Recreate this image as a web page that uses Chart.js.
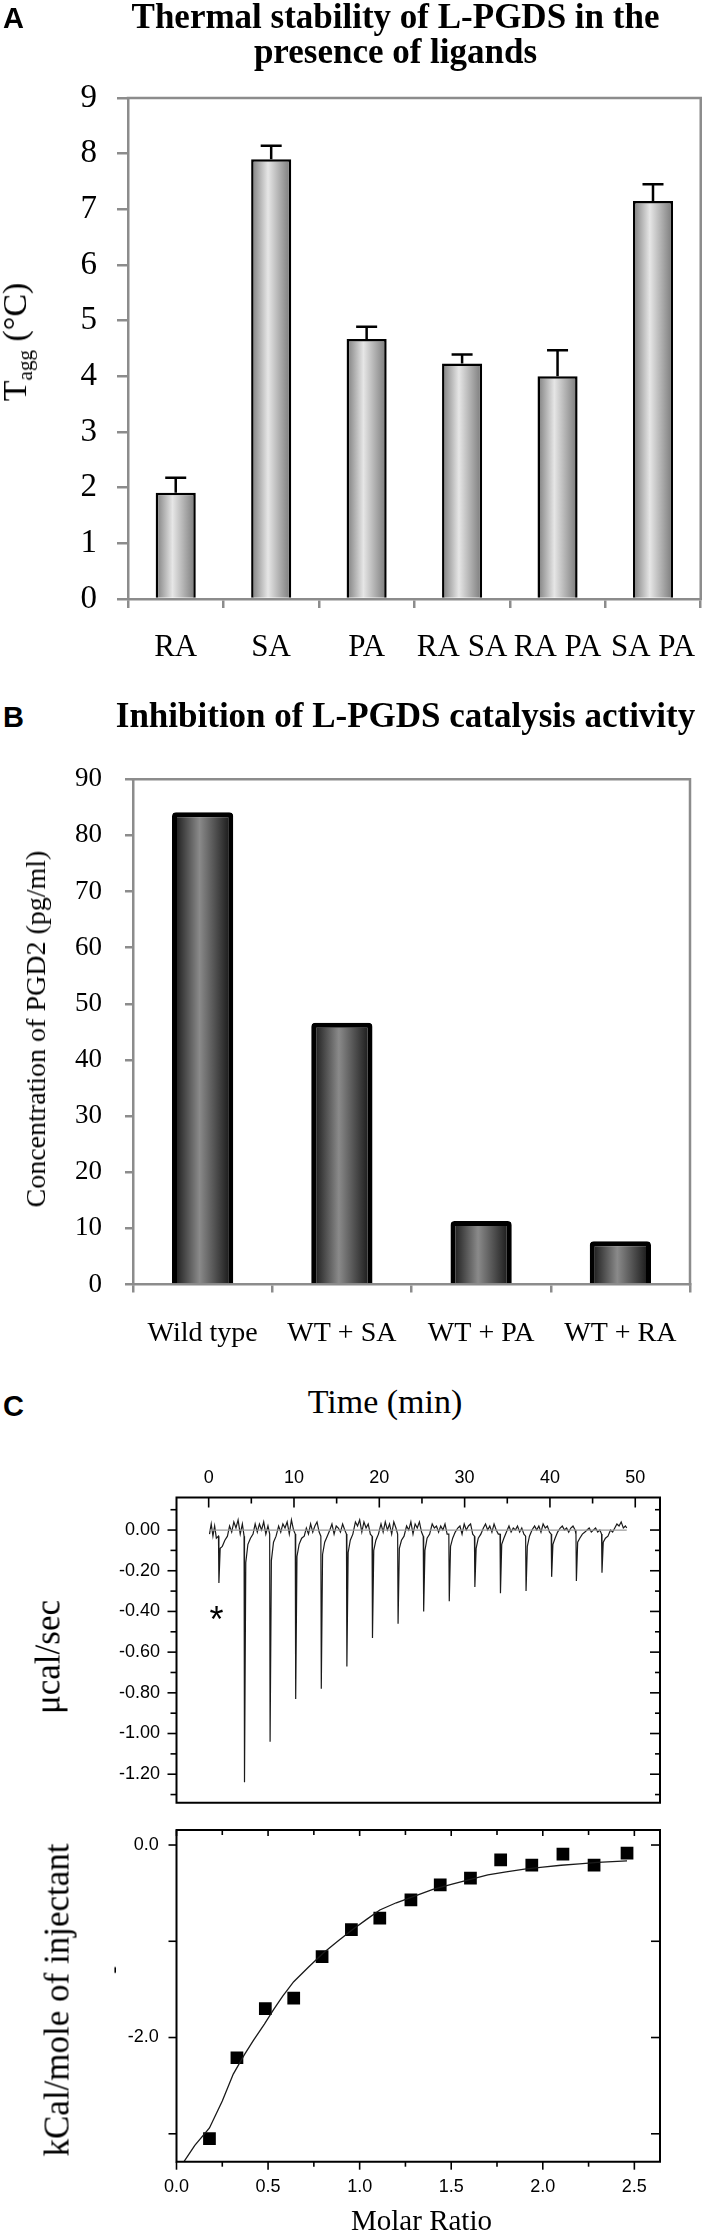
<!DOCTYPE html>
<html>
<head>
<meta charset="utf-8">
<script src="https://cdn.jsdelivr.net/npm/chart.js@4.4.1/dist/chart.umd.min.js"></script>
<style>
  body { margin: 0; background: #fff; }
  #page { position: relative; width: 717px; height: 2235px; overflow: hidden; background: #fff; }
  canvas { position: absolute; left: 0; }
  .txt { position: absolute; white-space: nowrap; line-height: 1; color: #000; }
  .serif { font-family: 'Liberation Serif', 'Times New Roman', serif; }
  .sans { font-family: 'Liberation Sans', Arial, sans-serif; }
  .mid { transform: translateX(-50%); text-align: center; }
  .up { transform: translate(-50%, -50%) rotate(-90deg); }
</style>
</head>
<body>
<div id="page">
  <canvas id="chartA" width="717" height="700" style="top:0px"></canvas>
  <canvas id="chartB" width="717" height="640" style="top:740px"></canvas>
  <canvas id="chartRaw" width="717" height="390" style="top:1440px"></canvas>
  <canvas id="chartFit" width="717" height="435" style="top:1800px"></canvas>

  <div class="txt sans" style="left:3px; top:3.5px; font-size:29px; font-weight:bold;">A</div>
  <div class="txt serif mid" style="left:395.5px; top:-1.3px; font-size:35px; line-height:35px; font-weight:bold;">Thermal stability of L-PGDS in the<br>presence of ligands</div>
  <div class="txt serif up" style="left:17px; top:342px; font-size:34px;">T<span style="font-size:0.62em; vertical-align:-0.28em;">agg</span> (°C)</div>

  <div class="txt sans" style="left:3px; top:702.5px; font-size:29px; font-weight:bold;">B</div>
  <div class="txt serif mid" style="left:405.5px; top:697.7px; font-size:35px; font-weight:bold;">Inhibition of L-PGDS catalysis activity</div>
  <div class="txt serif up" style="left:35.5px; top:1028.5px; font-size:28px;">Concentration of PGD2 (pg/ml)</div>

  <div class="txt sans" style="left:3px; top:1391.5px; font-size:29px; font-weight:bold;">C</div>
  <div class="txt serif mid" style="left:385px; top:1384.5px; font-size:34px;">Time (min)</div>
  <div class="txt serif up" style="left:47.5px; top:1657px; font-size:35px;">μcal/sec</div>
  <div class="txt sans mid" style="left:216.5px; top:1602px; font-size:36px;">*</div>
  <div class="txt serif up" style="left:57px; top:2000px; font-size:35px;">kCal/mole of injectant</div>
  <div class="txt serif up" style="left:113px; top:1970px; font-size:22px;">-</div>
  <div class="txt serif mid" style="left:421.5px; top:2205.7px; font-size:29px;">Molar Ratio</div>
</div>

<script>
// Panel A: thermal stability (Tagg shift) with ligands
const ligands = ["RA", "SA", "PA", "RA SA", "RA PA", "SA PA"];
const taggShift = [1.91, 7.9, 4.67, 4.23, 4.0, 7.15];
const taggError = [0.27, 0.24, 0.22, 0.16, 0.47, 0.3];

// Panel B: PGD2 produced
const samples = ["Wild type", "WT + SA", "WT + PA", "WT + RA"];
const pgd2 = [84.1, 46.6, 11.3, 7.7];

// Panel C top: raw ITC trace
const timeTicks = [0, 10, 20, 30, 40, 50];
const timeMinor = [5, 15, 25, 35, 45];
const powerTicks = [0, -0.2, -0.4, -0.6, -0.8, -1.0, -1.2];
const powerMinor = [0.1, -0.1, -0.3, -0.5, -0.7, -0.9, -1.1, -1.3];
const itcTime = [
  0.1, 0.3, 0.5, 0.7, 0.9,
  1.15, 1.2, 1.35, 1.6, 1.9, 2.2, 2.45, 2.7, 2.95, 3.2, 3.45, 3.7, 3.95,
  4.15, 4.2, 4.35, 4.6, 4.9, 5.2, 5.45, 5.7, 5.95, 6.2, 6.45, 6.7, 6.95,
  7.15, 7.2, 7.35, 7.6, 7.9, 8.2, 8.45, 8.7, 8.95, 9.2, 9.45, 9.7, 9.95,
  10.15, 10.2, 10.35, 10.6, 10.9, 11.2, 11.45, 11.7, 11.95, 12.2, 12.45, 12.7, 12.95,
  13.15, 13.2, 13.35, 13.6, 13.9, 14.2, 14.45, 14.7, 14.95, 15.2, 15.45, 15.7, 15.95,
  16.15, 16.2, 16.35, 16.6, 16.9, 17.2, 17.45, 17.7, 17.95, 18.2, 18.45, 18.7, 18.95,
  19.15, 19.2, 19.35, 19.6, 19.9, 20.2, 20.45, 20.7, 20.95, 21.2, 21.45, 21.7, 21.95,
  22.15, 22.2, 22.35, 22.6, 22.9, 23.2, 23.45, 23.7, 23.95, 24.2, 24.45, 24.7, 24.95,
  25.15, 25.2, 25.35, 25.6, 25.9, 26.2, 26.45, 26.7, 26.95, 27.2, 27.45, 27.7, 27.95,
  28.15, 28.2, 28.35, 28.6, 28.9, 29.2, 29.45, 29.7, 29.95, 30.2, 30.45, 30.7, 30.95,
  31.15, 31.2, 31.35, 31.6, 31.9, 32.2, 32.45, 32.7, 32.95, 33.2, 33.45, 33.7, 33.95,
  34.15, 34.2, 34.35, 34.6, 34.9, 35.2, 35.45, 35.7, 35.95, 36.2, 36.45, 36.7, 36.95,
  37.15, 37.2, 37.35, 37.6, 37.9, 38.2, 38.45, 38.7, 38.95, 39.2, 39.45, 39.7, 39.95,
  40.15, 40.2, 40.35, 40.6, 40.9, 41.2, 41.45, 41.7, 41.95, 42.2, 42.45, 42.7, 42.95,
  43.05, 43.1, 43.25, 43.5, 43.8, 44.1, 44.35, 44.6, 44.85, 45.1, 45.35, 45.6, 45.85,
  46.05, 46.1, 46.25, 46.5, 46.8, 47.1, 47.35, 47.6, 47.85, 48.1, 48.35, 48.6, 48.85, 49.0,
];
const itcPower = [
  -0.02, 0.03, -0.03, 0.02, -0.04,
  -0.03, -0.26, -0.09, -0.08, -0.05, -0.03, 0.02, -0.01, 0.04, 0.01, 0.05, -0.02, 0.03,
  -0.03, -1.24, -0.16, -0.07, -0.04, -0.02, 0.03, -0.01, 0.03, 0.0, 0.04, -0.02, 0.02,
  -0.02, -1.04, -0.15, -0.06, -0.03, 0.02, -0.01, 0.03, 0.01, 0.04, -0.02, 0.05, 0.0,
  -0.02, -0.83, -0.13, -0.07, -0.04, -0.03, 0.01, -0.02, 0.03, -0.01, 0.02, 0.04, -0.01,
  -0.03, -0.78, -0.12, -0.06, -0.03, 0.0, 0.03, -0.02, 0.02, 0.01, -0.01, 0.03, 0.0,
  -0.02, -0.67, -0.11, -0.05, -0.02, 0.04, 0.02, 0.05, -0.01, 0.04, 0.01, 0.03, -0.02,
  -0.03, -0.53, -0.1, -0.05, -0.02, 0.03, -0.01, 0.04, 0.0, 0.03, -0.02, 0.04, 0.01,
  -0.02, -0.46, -0.09, -0.05, -0.03, 0.02, 0.0, 0.04, -0.02, 0.03, 0.01, 0.04, -0.01,
  -0.03, -0.4, -0.1, -0.04, -0.02, 0.03, 0.01, 0.02, -0.01, 0.02, 0.0, 0.03, -0.02,
  -0.02, -0.35, -0.08, -0.04, -0.01, 0.01, 0.02, -0.02, 0.03, 0.0, 0.02, 0.03, -0.02,
  -0.03, -0.28, -0.09, -0.04, -0.02, 0.01, 0.03, 0.0, 0.02, -0.01, 0.03, 0.0, -0.02,
  -0.02, -0.31, -0.07, -0.04, -0.01, 0.02, -0.01, 0.01, 0.0, 0.02, -0.01, 0.01, -0.02,
  -0.03, -0.3, -0.08, -0.03, 0.0, 0.02, 0.0, 0.02, -0.01, 0.03, 0.01, 0.02, -0.01,
  -0.02, -0.23, -0.07, -0.04, -0.01, 0.01, 0.02, 0.0, 0.01, -0.01, 0.01, 0.02, 0.0,
  -0.02, -0.25, -0.06, -0.04, -0.02, -0.01, 0.0, 0.01, -0.01, 0.0, 0.01, -0.01, 0.0,
  -0.02, -0.21, -0.06, -0.04, -0.03, 0.0, -0.01, 0.01, 0.03, 0.02, 0.04, 0.01, 0.02, 0.01,
];

// Panel C bottom: integrated heats + fit
const ratioTicks = [0, 0.5, 1, 1.5, 2, 2.5];
const ratioMinor = [0.25, 0.75, 1.25, 1.75, 2.25];
const heatTicks = [0, -2];
const heatMarks = [0, -1, -2, -3];
const molarRatio = [0.18, 0.33, 0.485, 0.64, 0.795, 0.955, 1.11, 1.28, 1.44, 1.605, 1.77, 1.94, 2.11, 2.28, 2.46];
const heatPerMole = [-3.05, -2.21, -1.7, -1.59, -1.16, -0.88, -0.76, -0.57, -0.415, -0.345, -0.155, -0.21, -0.095, -0.21, -0.085];
const fitRatio = [0.03, 0.1, 0.18, 0.25, 0.31, 0.37, 0.42, 0.48, 0.53, 0.58, 0.64, 0.72, 0.8, 0.88, 0.96, 1.04, 1.11, 1.2, 1.3, 1.4, 1.5, 1.6, 1.7, 1.8, 1.9, 2.0, 2.1, 2.2, 2.3, 2.46];
const fitHeat = [-3.32, -3.12, -2.94, -2.66, -2.38, -2.18, -2.03, -1.86, -1.71, -1.57, -1.42, -1.27, -1.125, -1.0, -0.88, -0.77, -0.675, -0.6, -0.53, -0.46, -0.41, -0.36, -0.31, -0.28, -0.25, -0.23, -0.21, -0.195, -0.18, -0.165];

const SERIF = "'Liberation Serif', 'Times New Roman', serif";
const SANS = "'Liberation Sans', Arial, sans-serif";
const GRAY = "#8c8c8c";

// box lines + hand placed tick marks (len > 0 points inward)
const framePlugin = {
  id: "frame",
  afterDraw(chart, args, opts) {
    if (!opts || !opts.sides) return;
    const { left, right, top, bottom } = chart.chartArea;
    const c = chart.ctx;
    c.save();
    c.strokeStyle = opts.color;
    c.lineWidth = opts.width;
    c.lineCap = "square";
    c.beginPath();
    opts.sides.forEach((s) => {
      if (s === "top") { c.moveTo(left, top); c.lineTo(right, top); }
      if (s === "bottom") { c.moveTo(left, bottom); c.lineTo(right, bottom); }
      if (s === "left") { c.moveTo(left, top); c.lineTo(left, bottom); }
      if (s === "right") { c.moveTo(right, top); c.lineTo(right, bottom); }
    });
    c.stroke();
    c.lineCap = "butt";
    c.lineWidth = opts.tickWidth || opts.width;
    (opts.ticks || []).forEach((t) => {
      const sc = chart.scales[t.scale];
      t.values.forEach((v) => {
        if (v < sc.min || v > sc.max) return;
        const p = sc.getPixelForValue(v);
        c.beginPath();
        if (t.side === "top") { c.moveTo(p, top); c.lineTo(p, top + t.len); }
        if (t.side === "bottom") { c.moveTo(p, bottom); c.lineTo(p, bottom - t.len); }
        if (t.side === "left") { c.moveTo(left, p); c.lineTo(left + t.len, p); }
        if (t.side === "right") { c.moveTo(right, p); c.lineTo(right - t.len, p); }
        c.stroke();
      });
    });
    c.restore();
  },
};
Chart.register(framePlugin);

// error bars for panel A (upper half only)
const errorBars = {
  id: "errorBars",
  afterDatasetsDraw(chart) {
    const meta = chart.getDatasetMeta(0);
    const ys = chart.scales.y;
    const c = chart.ctx;
    c.save();
    c.strokeStyle = "#000";
    c.lineWidth = 2.5;
    meta.data.forEach((bar, i) => {
      const yTop = ys.getPixelForValue(taggShift[i] + taggError[i]);
      c.beginPath();
      c.moveTo(bar.x, bar.y);
      c.lineTo(bar.x, yTop);
      c.moveTo(bar.x - 10.5, yTop);
      c.lineTo(bar.x + 10.5, yTop);
      c.stroke();
    });
    c.restore();
  },
};

function barGradient(count, pct, stops) {
  return (ctx) => {
    const chart = ctx.chart;
    const sx = chart.scales.x;
    if (!chart.chartArea || !sx || ctx.dataIndex === undefined) return stops[1];
    const cx = sx.getPixelForValue(ctx.dataIndex);
    const half = (sx.width / count) * pct / 2;
    const g = chart.ctx.createLinearGradient(cx - half, 0, cx + half, 0);
    g.addColorStop(0, stops[0]);
    g.addColorStop(stops[3], stops[1]);
    g.addColorStop(1, stops[2]);
    return g;
  };
}

// Panel A
new Chart(document.getElementById("chartA"), {
  type: "bar",
  data: {
    labels: ligands,
    datasets: [{
      data: taggShift,
      backgroundColor: barGradient(ligands.length, 0.42, ["#7c7c7c", "#e6e6e6", "#787878", 0.42]),
      borderColor: "#000",
      borderWidth: 2.5,
      barPercentage: 0.42,
      categoryPercentage: 1,
    }],
  },
  options: {
    responsive: false,
    animation: false,
    layout: { padding: { top: 98, right: 5, bottom: 21, left: 0 } },
    plugins: {
      legend: { display: false },
      tooltip: { enabled: false },
      frame: { color: GRAY, width: 2.5, sides: ["top", "right"] },
    },
    scales: {
      x: {
        grid: { offset: true, drawOnChartArea: false, tickLength: 9, color: GRAY, lineWidth: 2.5 },
        border: { color: GRAY, width: 2.5 },
        ticks: { color: "#000", font: { family: SERIF, size: 31 }, padding: 21.5, autoSkip: false, maxRotation: 0, minRotation: 0 },
        afterFit: (s) => { s.height = 80; },
      },
      y: {
        min: 0,
        max: 9,
        grid: { drawOnChartArea: false, tickLength: 11, color: GRAY, lineWidth: 2.5 },
        border: { color: GRAY, width: 2.5 },
        ticks: { stepSize: 1, color: "#000", font: { family: SERIF, size: 33 }, padding: 20 },
        afterFit: (s) => { s.width = 128; },
      },
    },
  },
  plugins: [errorBars],
});

// Panel B
new Chart(document.getElementById("chartB"), {
  type: "bar",
  data: {
    labels: samples,
    datasets: [{
      data: pgd2,
      backgroundColor: barGradient(samples.length, 0.44, ["#0e0e0e", "#8a8a8a", "#0e0e0e", 0.45]),
      borderColor: "#000",
      borderWidth: 5,
      borderRadius: 4,
      barPercentage: 0.44,
      categoryPercentage: 1,
    }],
  },
  options: {
    responsive: false,
    animation: false,
    layout: { padding: { top: 33, right: 27, bottom: 15.5, left: 0 } },
    plugins: {
      legend: { display: false },
      tooltip: { enabled: false },
      frame: { color: GRAY, width: 2.5, sides: ["top", "right"] },
    },
    scales: {
      x: {
        grid: { offset: true, drawOnChartArea: false, tickLength: 8, color: GRAY, lineWidth: 2.5 },
        border: { color: GRAY, width: 2.5 },
        ticks: { color: "#000", font: { family: SERIF, size: 28 }, padding: 24, autoSkip: false, maxRotation: 0, minRotation: 0 },
        afterFit: (s) => { s.height = 80; },
      },
      y: {
        min: 0,
        max: 90,
        grid: { drawOnChartArea: false, tickLength: 8, color: GRAY, lineWidth: 2.5 },
        border: { color: GRAY, width: 2.5 },
        ticks: { stepSize: 10, color: "#000", font: { family: SERIF, size: 27 }, padding: 23 },
        afterFit: (s) => { s.width = 133; },
      },
    },
  },
});

// Panel C, raw power trace
const tracePoints = itcTime.map((t, i) => ({ x: t, y: itcPower[i] }));
const baseline = [{ x: itcTime[0], y: 0 }, { x: itcTime[itcTime.length - 1], y: 0 }];

new Chart(document.getElementById("chartRaw"), {
  type: "scatter",
  data: {
    datasets: [
      { data: baseline, showLine: true, borderColor: "#9a9a9a", borderWidth: 1.3, pointRadius: 0 },
      { data: tracePoints, showLine: true, borderColor: "#1a1a1a", borderWidth: 1.2, pointRadius: 0, tension: 0 },
    ],
  },
  options: {
    responsive: false,
    animation: false,
    layout: { padding: { top: 0, right: 57, bottom: 0, left: 0 } },
    plugins: {
      legend: { display: false },
      tooltip: { enabled: false },
      frame: {
        color: "#000", width: 2, tickWidth: 1.6, sides: ["top", "right", "bottom", "left"],
        ticks: [
          { scale: "x", side: "top", values: timeTicks, len: 10 },
          { scale: "x", side: "top", values: timeMinor, len: 6 },
          { scale: "y", side: "left", values: powerTicks, len: -9 },
          { scale: "y", side: "left", values: powerMinor, len: -6 },
          { scale: "y", side: "right", values: powerTicks, len: 10 },
          { scale: "y", side: "right", values: powerMinor, len: 5 },
        ],
      },
    },
    scales: {
      x: {
        type: "linear",
        position: "top",
        min: -3.77,
        max: 52.9,
        grid: { display: false, drawTicks: false },
        border: { display: false },
        afterBuildTicks: (s) => { s.ticks = timeTicks.map((v) => ({ value: v })); },
        ticks: { color: "#000", font: { family: SANS, size: 18 }, padding: 8.7, callback: (v) => String(v), maxRotation: 0 },
        afterFit: (s) => { s.height = 57.5; },
      },
      y: {
        min: -1.34,
        max: 0.16,
        grid: { display: false, drawTicks: false },
        border: { display: false },
        afterBuildTicks: (s) => { s.ticks = powerTicks.map((v) => ({ value: v })); },
        ticks: { color: "#000", font: { family: SANS, size: 18 }, padding: 16.5, callback: (v) => v.toFixed(2) },
        afterFit: (s) => { s.width = 176.5; },
      },
    },
  },
});

// Panel C, integrated heats
const heatPoints = molarRatio.map((r, i) => ({ x: r, y: heatPerMole[i] }));
const fitPoints = fitRatio.map((r, i) => ({ x: r, y: fitHeat[i] }));

new Chart(document.getElementById("chartFit"), {
  type: "scatter",
  data: {
    datasets: [
      { data: fitPoints, showLine: true, borderColor: "#1a1a1a", borderWidth: 1.3, pointRadius: 0 },
      { data: heatPoints, pointStyle: "rect", pointRadius: 9, backgroundColor: "#000", borderColor: "#000", borderWidth: 0 },
    ],
  },
  options: {
    responsive: false,
    animation: false,
    layout: { padding: { top: 30, right: 57, bottom: 0, left: 0 } },
    plugins: {
      legend: { display: false },
      tooltip: { enabled: false },
      frame: {
        color: "#000", width: 2, tickWidth: 1.6, sides: ["top", "right", "bottom", "left"],
        ticks: [
          { scale: "x", side: "bottom", values: ratioTicks, len: -8 },
          { scale: "x", side: "bottom", values: ratioMinor, len: -5 },
          { scale: "x", side: "top", values: ratioTicks, len: 6 },
          { scale: "x", side: "top", values: ratioMinor, len: 5 },
          { scale: "y", side: "left", values: heatMarks, len: -8 },
          { scale: "y", side: "right", values: heatMarks, len: 9 },
        ],
      },
    },
    scales: {
      x: {
        type: "linear",
        min: 0,
        max: 2.64,
        grid: { display: false, drawTicks: false },
        border: { display: false },
        afterBuildTicks: (s) => { s.ticks = ratioTicks.map((v) => ({ value: v })); },
        ticks: { color: "#000", font: { family: SANS, size: 18 }, padding: 14.2, callback: (v) => v.toFixed(1), maxRotation: 0 },
        afterFit: (s) => { s.height = 73.3; },
      },
      y: {
        min: -3.29,
        max: 0.156,
        grid: { display: false, drawTicks: false },
        border: { display: false },
        afterBuildTicks: (s) => { s.ticks = heatTicks.map((v) => ({ value: v })); },
        ticks: { color: "#000", font: { family: SANS, size: 18 }, padding: 17.7, callback: (v) => v.toFixed(1) },
        afterFit: (s) => { s.width = 176.5; },
      },
    },
  },
});
</script>
</body>
</html>
